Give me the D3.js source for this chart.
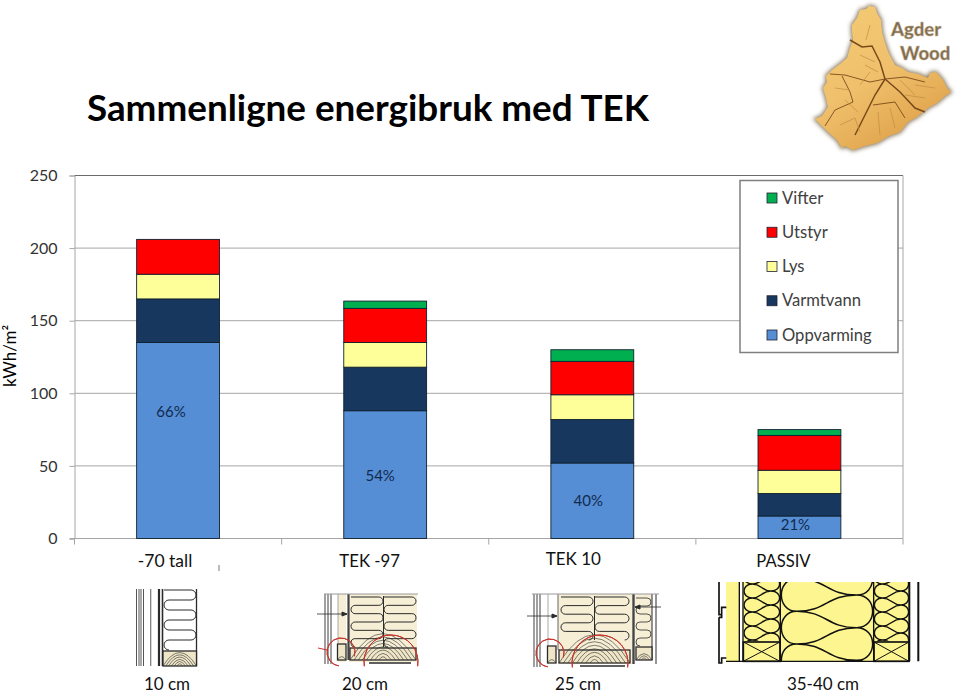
<!DOCTYPE html>
<html>
<head>
<meta charset="utf-8">
<script src="https://cdnjs.cloudflare.com/ajax/libs/d3/7.8.5/d3.min.js"></script>
<style>
  html, body { margin: 0; background: #fff; }
  svg { display: block; font-family: Lato, "Open Sans", sans-serif; }
</style>
</head>
<body>
<div id="chart"></div>
<script>
// chart data
const categories = ["-70 tall", "TEK -97", "TEK 10", "PASSIV"];
const seriesNames = ["Oppvarming", "Varmtvann", "Lys", "Utstyr", "Vifter"];
const oppvarming = [135, 88, 52, 15.5];
const varmtvann = [30, 30, 30, 15.5];
const lys = [17, 17, 17, 16];
const utstyr = [24, 23.5, 23, 24];
const vifter = [0, 5, 8, 4];
const shares = ["66%", "54%", "40%", "21%"];
const yTicks = [0, 50, 100, 150, 200, 250];
const thickness = ["10 cm", "20 cm", "25 cm", "35-40 cm"];

const colors = ["#558ed5", "#17375e", "#ffff99", "#ff0000", "#00b050"];
const W = 960, H = 694;

const svg = d3.select("#chart").append("svg").attr("width", W).attr("height", H);

const rows = categories.map((c, i) => ({
  cat: c, Oppvarming: oppvarming[i], Varmtvann: varmtvann[i], Lys: lys[i], Utstyr: utstyr[i], Vifter: vifter[i]
}));

const x = d3.scaleBand().domain(categories).range([74.5, 903]).paddingInner(0.6).paddingOuter(0.3);
const y = d3.scaleLinear().domain([0, 250]).range([538.5, 175.5]);
const color = d3.scaleOrdinal().domain(seriesNames).range(colors);

// title
svg.append("text").attr("x", 87).attr("y", 121)
  .style("font-size", "36.8px").style("font-weight", 700).attr("fill", "#000")
  .text("Sammenligne energibruk med TEK");

// grid and frame
const grid = "#a6a6a6";
svg.append("g").selectAll("line").data(yTicks.filter(d => d > 0)).join("line")
  .attr("x1", 74.5).attr("x2", 903)
  .attr("y1", d => y(d)).attr("y2", d => y(d))
  .attr("stroke", d => d === 250 ? "#6b6b6b" : grid);
svg.append("line").attr("x1", 903).attr("x2", 903).attr("y1", y(250)).attr("y2", y(0)).attr("stroke", grid);

const yAxis = svg.append("g").attr("transform", "translate(74.5,0)")
  .call(d3.axisLeft(y).tickValues(yTicks).tickSize(5).tickPadding(12));
yAxis.select(".domain").attr("stroke", grid);
yAxis.selectAll("line").attr("stroke", grid);
yAxis.selectAll("text").style("font-size", "16px").style("font-family", "Lato").attr("fill", "#333");

// baseline and category ticks
svg.append("line").attr("x1", 70).attr("x2", 903).attr("y1", y(0)).attr("y2", y(0)).attr("stroke", grid);
const step = x.step();
svg.append("g").selectAll("line").data(d3.range(5)).join("line")
  .attr("x1", i => 74.5 + i * step).attr("x2", i => 74.5 + i * step)
  .attr("y1", y(0)).attr("y2", y(0) + 6).attr("stroke", grid);
svg.append("line").attr("x1", 219).attr("x2", 219).attr("y1", 565).attr("y2", 571).attr("stroke", "#777");

// stacked bars
const stack = d3.stack().keys(seriesNames)(rows);
svg.append("g").selectAll("g").data(stack).join("g")
  .attr("fill", d => color(d.key))
  .selectAll("rect").data(d => d.filter(s => s[1] > s[0])).join("rect")
  .attr("x", d => x(d.data.cat))
  .attr("width", x.bandwidth())
  .attr("y", d => y(d[1]))
  .attr("height", d => y(d[0]) - y(d[1]))
  .attr("stroke", "#10202f").attr("stroke-width", 0.9);

// share labels inside the bottom segment
const shareDx = [-7, -5, -4, -4];
const shareFrac = [0.645, 0.49, 0.5, 0.6];
svg.append("g").selectAll("text").data(shares).join("text")
  .attr("x", (d, i) => x(categories[i]) + x.bandwidth() / 2 + shareDx[i])
  .attr("y", (d, i) => y(oppvarming[i] * shareFrac[i]) + 5)
  .attr("text-anchor", "middle").style("font-size", "15px").attr("fill", "#122a4d")
  .text(d => d);

// y title
svg.append("text").attr("transform", "translate(16,356) rotate(-90)")
  .attr("text-anchor", "middle").style("font-size", "17px").attr("fill", "#000").text("kWh/m²");

// category labels are typed on the slide, not centred on the bars
const catDx = [-13, -15.5, -19, -16];
const catY = [567, 566.5, 564.5, 566.5];
const catSize = [17.5, 16.8, 17, 16.6];
svg.append("g").selectAll("text").data(categories).join("text")
  .attr("x", (d, i) => x(d) + x.bandwidth() / 2 + catDx[i])
  .attr("y", (d, i) => catY[i])
  .attr("text-anchor", "middle").style("font-size", (d, i) => catSize[i] + "px").attr("fill", "#111").text(d => d);

// legend
const legend = svg.append("g");
legend.append("rect").attr("x", 740).attr("y", 180.5).attr("width", 158).attr("height", 172)
  .attr("fill", "#fff").attr("stroke", "#7f7f7f").attr("stroke-width", 1.5);
const legendY = d3.scalePoint().domain(seriesNames.slice().reverse()).range([198, 335]);
const items = legend.selectAll("g").data(seriesNames).join("g")
  .attr("transform", d => `translate(767,${legendY(d)})`);
items.append("rect").attr("y", -5).attr("width", 10).attr("height", 10)
  .attr("fill", d => color(d)).attr("stroke", "#223").attr("stroke-width", 0.8);
items.append("text").attr("x", 15).attr("y", 5.5).style("font-size", "16.6px").attr("fill", "#404040").text(d => d);

// thickness captions under the wall drawings
const capX = [167, 365, 578, 823];
svg.append("g").selectAll("text").data(thickness).join("text")
  .attr("x", (d, i) => capX[i]).attr("y", 690)
  .attr("text-anchor", "middle").style("font-size", "17px").attr("fill", "#111").text(d => d);

// ---- wall section drawings ----
const ink = "#2b2b2b", cream = "#f6efd6";
const walls = svg.append("g").attr("fill", "none").attr("stroke", ink).attr("stroke-width", 1);

function vline(px, y0, y1, w, c) {
  walls.append("line").attr("x1", px).attr("x2", px).attr("y1", y0).attr("y2", y1)
    .attr("stroke-width", w || 1).attr("stroke", c || ink);
}
// serpentine batt insulation
function batt(x0, x1, y0, y1, n, sw) {
  const h = (y1 - y0) / n, r = h / 2;
  let d = `M${x0},${y0}`;
  for (let i = 0; i < n; i++) {
    const ya = y0 + i * h, yb = ya + h;
    if (i % 2 === 0) d += `L${x1 - r},${ya}A${r},${r} 0 0 1 ${x1 - r},${yb}`;
    else d += `L${x0 + r},${ya}A${r},${r} 0 0 0 ${x0 + r},${yb}`;
  }
  walls.append("path").attr("d", d).attr("stroke-width", sw || 1);
}
// timber end grain: box with rings
function timber(x0, x1, y0, y1, n) {
  walls.append("rect").attr("x", x0).attr("y", y0).attr("width", x1 - x0).attr("height", y1 - y0)
    .attr("fill", "#efe6c8").attr("stroke-width", 1.3);
  const cx = (x0 + x1) / 2, g = walls.append("g").attr("stroke-width", 0.6);
  d3.range(1, n + 1).forEach(i => {
    const r = i * (x1 - x0) / (2 * n);
    g.append("path").attr("d", `M${Math.max(x0, cx - r)},${y1}Q${cx},${y1 - (r * 1.6)} ${Math.min(x1, cx + r)},${y1}`);
  });
}
function arrow(x0, x1, py) {
  const dir = x1 > x0 ? 1 : -1;
  walls.append("line").attr("x1", x0).attr("x2", x1).attr("y1", py).attr("y2", py).attr("stroke-width", 0.8);
  walls.append("path").attr("d", `M${x1},${py}l${-5 * dir},-2v4z`).attr("fill", ink);
}
function redArc(cx, cy, r, a0, a1) {
  walls.append("path").attr("transform", `translate(${cx},${cy})`)
    .attr("d", d3.arc().innerRadius(r).outerRadius(r).startAngle(a0).endAngle(a1)())
    .attr("stroke", "#c8342c").attr("stroke-width", 1);
}

// wall 1
[136.5, 139, 141, 143.5].forEach(v => vline(v, 589, 666, 1, "#555"));
vline(150.7, 589, 666, 1.2, "#777");
vline(159, 589, 666, 2.2, ink);
vline(162.5, 589, 666, 1.6, ink);
vline(196.5, 589, 666, 1.3, ink);
batt(164, 196, 590, 650, 6);
timber(163, 196.5, 651, 666, 6);

// wall 2
walls.append("rect").attr("x", 338).attr("y", 594).attr("width", 79).attr("height", 68).attr("fill", cream).attr("stroke", "none");
walls.append("rect").attr("x", 346).attr("y", 594).attr("width", 3).attr("height", 68).attr("fill", "#fff").attr("stroke", "none");
[325, 328, 331].forEach(v => vline(v, 594, 664, 0.9));
vline(338, 594, 643, 0.7, "#888");
vline(348.5, 594, 660, 2.2, "#444");
walls.append("line").attr("x1", 324).attr("x2", 418).attr("y1", 594).attr("y2", 594).attr("stroke", "#999");
batt(351, 383, 597, 647, 6);
batt(384, 416, 597, 647, 6);
vline(383.5, 596, 647, 1);
timber(350, 416, 648, 660, 8);
timber(337.5, 346, 644, 660, 1);
walls.append("line").attr("x1", 369).attr("x2", 411).attr("y1", 663).attr("y2", 663).attr("stroke-width", 1.5);
arrow(317, 347, 614);
redArc(341, 652, 14, -Math.PI * 0.95, Math.PI * 0.6);
redArc(391, 662, 27, -Math.PI * 0.55, Math.PI * 0.55);
walls.append("line").attr("x1", 318).attr("x2", 327).attr("y1", 648).attr("y2", 650).attr("stroke", "#c8342c");

// wall 3
walls.append("rect").attr("x", 558).attr("y", 594).attr("width", 74).attr("height", 70).attr("fill", cream).attr("stroke", "none");
walls.append("rect").attr("x", 635).attr("y", 594).attr("width", 17).attr("height", 66).attr("fill", cream).attr("stroke", "none");
[534, 537, 540].forEach(v => vline(v, 594, 667, 0.9));
vline(548, 594, 646, 0.7, "#888");
vline(558, 594, 650, 1, "#666");
vline(633.5, 594, 664, 2.4, "#444");
vline(652, 594, 660, 1, ink);
vline(656, 594, 664, 1, ink);
walls.append("line").attr("x1", 532).attr("x2", 659).attr("y1", 594).attr("y2", 594).attr("stroke", "#999");
batt(561, 593, 597, 640, 5);
batt(595, 629, 597, 640, 5);
vline(594.5, 596, 640, 1);
batt(636, 651, 598, 646, 6, 0.8);
timber(559, 630, 650, 663, 8);
timber(547.5, 556, 646, 663, 1);
timber(636, 652, 647, 660, 3);
walls.append("line").attr("x1", 580).attr("x2", 625).attr("y1", 666).attr("y2", 666).attr("stroke-width", 1.5);
arrow(527, 557, 616);
arrow(661, 635, 607);
redArc(550, 653, 14, -Math.PI * 0.95, Math.PI * 0.6);
redArc(600, 663, 28, -Math.PI * 0.55, Math.PI * 0.55);

const defs = svg.append("defs");
const w4 = svg.append("g").attr("transform", "translate(715,578) scale(0.3333)")
  .attr("fill", "none").attr("stroke", "#111").attr("stroke-width", 4);
const yellow = "#fdf58f";
w4.append("rect").attr("x", 33).attr("y", 12).attr("width", 547).attr("height", 238).attr("fill", yellow).attr("stroke", "none");
w4.append("rect").attr("x", 75).attr("y", 12).attr("width", 9).attr("height", 238).attr("fill", "#fff").attr("stroke", "none");
w4.append("path").attr("stroke-width", 5).attr("d", "M12,12V110H20V88H34M12,118H20V112M12,118V255H20V240H34");
w4.append("path").attr("d", "M73,12V250M84,12V250M196,12V250M476,12V250");
w4.append("path").attr("stroke-width", 6).attr("d", "M583,12V250M610,12V250");

// criss-crossing batts: lobes bulge to x0 and x1, strands cross at lx and rx
function lobes(id, x0, x1, lx, rx, firstLeft, spacing, top, bottom, sw) {
  // the clip sits inside the scaled group, so it uses the same grid
  defs.append("clipPath").attr("id", id).append("rect")
    .attr("x", x0 - 2).attr("y", top).attr("width", x1 - x0 + 4).attr("height", bottom - top);
  const g = w4.append("g").attr("clip-path", `url(#${id})`).attr("stroke-width", sw);
  const mid = (lx + rx) / 2, k = 4 / 3;
  let d = "";
  for (let ly = firstLeft - spacing * 2; ly < bottom + spacing; ly += spacing) {
    const dn = ly + spacing / 2, up = ly - spacing / 2;
    d += `M${lx},${ly}C${mid},${ly} ${mid},${dn} ${rx},${dn}`;
    d += `M${lx},${ly}C${mid},${ly} ${mid},${up} ${rx},${up}`;
    d += `M${lx},${ly}C${lx - (lx - x0) * k},${ly} ${lx - (lx - x0) * k},${ly + spacing} ${lx},${ly + spacing}`;
    d += `M${rx},${dn}C${rx + (x1 - rx) * k},${dn} ${rx + (x1 - rx) * k},${dn + spacing} ${rx},${dn + spacing}`;
  }
  g.append("path").attr("d", d);
}
lobes("bayA", 87, 194, 112, 168, 60, 42, 12, 190, 4.5);
lobes("bayB", 199, 473, 245, 425, 100, 98, 12, 250, 4.5);
lobes("bayC", 478, 581, 502, 558, 60, 42, 12, 190, 4.5);
[[85, 195], [477, 582]].forEach(([a, b]) => {
  w4.append("rect").attr("x", a).attr("y", 192).attr("width", b - a).attr("height", 58).attr("stroke-width", 5);
  w4.append("path").attr("d", `M${a},192L${b},250M${b},192L${a},250`).attr("stroke-width", 3);
});
w4.append("line").attr("x1", 33).attr("x2", 582).attr("y1", 250).attr("y2", 250).attr("stroke-width", 4);

// ---- logo ----
const blur = defs.append("filter").attr("id", "logoShadow").attr("x", "-20%").attr("y", "-20%").attr("width", "140%").attr("height", "140%");
blur.append("feGaussianBlur").attr("stdDeviation", 2.2);
const woodGrad = defs.append("linearGradient").attr("id", "wood").attr("x1", 0).attr("y1", 0).attr("x2", 0.6).attr("y2", 1);
woodGrad.append("stop").attr("offset", "0%").attr("stop-color", "#f4cc74");
woodGrad.append("stop").attr("offset", "55%").attr("stop-color", "#f0c06c");
woodGrad.append("stop").attr("offset", "100%").attr("stop-color", "#dfa24a");
const outline = "M860,10L866,9L869,6L875,7L877,13L881,20L882,32L885,43L889,54L895,65L902,68L908,72L918,74L928,78L930,73L936,72L943,80L947,88L951,92L945,96L937,103L928,108L917,117L908,122L900,132L889,136L877,143L865,146L853,150L845,146L842,148L837,140L828,132L822,126L815,119L822,116L828,107L826,98L823,88L827,82L826,76L832,70L840,64L847,58L850,48L853,40L852,32L852,25L857,18Z";
const logo = svg.append("g");
logo.append("path").attr("d", outline).attr("fill", "#8a7a60").attr("stroke", "#8a7a60").attr("stroke-width", 2.5).attr("filter", "url(#logoShadow)");
logo.append("path").attr("d", outline).attr("fill", "url(#wood)");
// main splits first, then the fine checks
const cracks = [
  "M850,40L862,47L872,46L880,62L885,79",
  "M885,79L875,95L865,115L855,135",
  "M885,79L900,92L915,108L925,112",
  "M885,79L870,82L845,75L830,74",
  "M842,76L850,92L853,102",
  "M885,79L905,77L925,82",
  "M873,105L895,102L905,118",
  "M853,102L835,110L825,126"
];
const fine = [
  "M860,55L875,62", "M835,88L850,90", "M860,85L870,72", "M840,125L855,118L860,132",
  "M878,112L880,135", "M890,108L895,128", "M905,95L925,98", "M900,80L915,95",
  "M870,25L866,40", "M845,100L858,112", "M865,65L878,72", "M915,85L935,88"
];
logo.append("g").selectAll("path").data(cracks).join("path")
  .attr("d", d => d).attr("fill", "none").attr("stroke", "#7a4a1c").attr("stroke-width", (d, i) => i < 3 ? 1.5 : 0.9);
logo.append("g").selectAll("path").data(fine).join("path")
  .attr("d", d => d).attr("fill", "none").attr("stroke", "#c08c44").attr("stroke-width", 0.7);
logo.append("text").attr("x", 891).attr("y", 36).style("font-size", "18.5px").style("font-weight", 900)
  .attr("fill", "#7f6c50").attr("stroke", "#cdbb98").attr("stroke-width", 0.5).text("Agder");
logo.append("text").attr("x", 900).attr("y", 60).style("font-size", "18.5px").style("font-weight", 900)
  .attr("fill", "#7f6c50").attr("stroke", "#cdbb98").attr("stroke-width", 0.5).text("Wood");
</script>
</body>
</html>
